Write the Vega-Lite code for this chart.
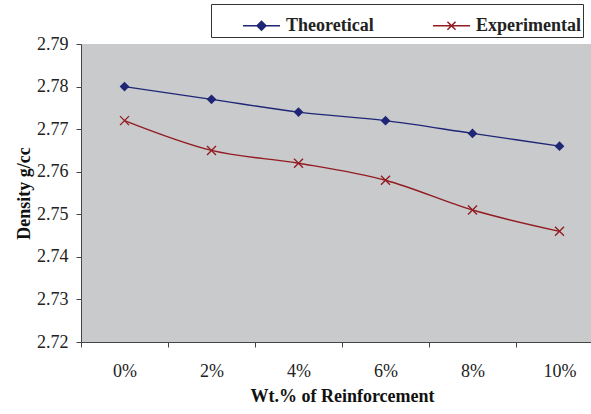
{
  "$schema": "https://vega.github.io/schema/vega-lite/v6.json",
  "width": 522,
  "height": 298,
  "autosize": {"type": "none"},
  "padding": {"left": 81, "top": 44, "right": 0, "bottom": 72},
  "background": "white",
  "config": {
    "view": {"fill": "#C9CACC", "stroke": null},
    "font": "Liberation Serif",
    "axis": {
      "labelFont": "Liberation Serif",
      "labelFontSize": 18,
      "labelColor": "#222222",
      "titleFont": "Liberation Serif",
      "titleFontSize": 18,
      "titleFontWeight": "bold",
      "titleColor": "#111111",
      "domainColor": "#444444",
      "tickColor": "#444444",
      "tickSize": 5,
      "grid": false
    }
  },
  "data": {
    "values": [
      {"wt": "0%", "series": "Theoretical", "density": 2.780},
      {"wt": "2%", "series": "Theoretical", "density": 2.777},
      {"wt": "4%", "series": "Theoretical", "density": 2.774},
      {"wt": "6%", "series": "Theoretical", "density": 2.772},
      {"wt": "8%", "series": "Theoretical", "density": 2.769},
      {"wt": "10%", "series": "Theoretical", "density": 2.766},
      {"wt": "0%", "series": "Experimental", "density": 2.772},
      {"wt": "2%", "series": "Experimental", "density": 2.765},
      {"wt": "4%", "series": "Experimental", "density": 2.762},
      {"wt": "6%", "series": "Experimental", "density": 2.758},
      {"wt": "8%", "series": "Experimental", "density": 2.751},
      {"wt": "10%", "series": "Experimental", "density": 2.746}
    ]
  },
  "encoding": {
    "x": {
      "field": "wt",
      "type": "nominal",
      "sort": null,
      "scale": {"type": "band", "paddingInner": 0, "paddingOuter": 0},
      "bandPosition": 0.5,
      "axis": {
        "title": "Wt.% of Reinforcement",
        "labelAngle": 0,
        "tickBand": "extent",
        "labelPadding": 15,
        "titlePadding": 7
      }
    },
    "y": {
      "field": "density",
      "type": "quantitative",
      "scale": {"domain": [2.72, 2.79], "nice": false, "zero": false},
      "axis": {
        "title": "Density g/cc",
        "values": [2.72, 2.73, 2.74, 2.75, 2.76, 2.77, 2.78, 2.79],
        "format": ".2f",
        "labelPadding": 8,
        "titlePadding": 3
      }
    }
  },
  "layer": [
    {
      "mark": {"type": "point", "size": 1369, "strokeWidth": 1.5, "opacity": 0},
      "encoding": {
        "shape": {
          "field": "series",
          "type": "nominal",
          "scale": {
            "domain": ["Theoretical", "Experimental"],
            "range": ["M-1,0H1M0,-0.24L0.24,0L0,0.24L-0.24,0Z", "M-1,0H1M-0.22,-0.22L0.22,0.22M-0.22,0.22L0.22,-0.22"]
          },
          "legend": {
            "orient": "none",
            "legendX": 130,
            "legendY": -40,
            "direction": "horizontal",
            "title": "\u00a0",
            "titleOrient": "left",
            "titlePadding": 29,
            "padding": 2,
            "strokeColor": "#333333",
            "fillColor": "white",
            "labelFont": "Liberation Serif",
            "labelFontSize": 18,
            "labelFontWeight": "bold",
            "labelColor": "#222222",
            "labelOffset": 5,
            "columnPadding": 56,
            "symbolSize": 1369,
            "symbolStrokeWidth": 1.5,
            "symbolOpacity": 1
          }
        },
        "fill": {
          "field": "series",
          "type": "nominal",
          "scale": {"domain": ["Theoretical", "Experimental"], "range": ["#1F2676", "transparent"]}
        },
        "stroke": {
          "field": "series",
          "type": "nominal",
          "scale": {"domain": ["Theoretical", "Experimental"], "range": ["#1F2676", "#931C22"]}
        }
      }
    },
    {
      "mark": {"type": "line", "strokeWidth": 1.4, "interpolate": "monotone"},
      "encoding": {
        "color": {
          "field": "series",
          "type": "nominal",
          "scale": {"domain": ["Theoretical", "Experimental"], "range": ["#1F2676", "#931C22"]},
          "legend": null
        }
      }
    },
    {
      "transform": [{"filter": "datum.series == 'Theoretical'"}],
      "mark": {"type": "point", "shape": "diamond", "filled": true, "color": "#1F2676", "size": 95, "opacity": 1}
    },
    {
      "transform": [{"filter": "datum.series == 'Experimental'"}],
      "mark": {"type": "point", "shape": "M-1,-1L1,1M-1,1L1,-1", "filled": false, "color": "#931C22", "size": 81, "strokeWidth": 1.4, "opacity": 1}
    }
  ]
}
